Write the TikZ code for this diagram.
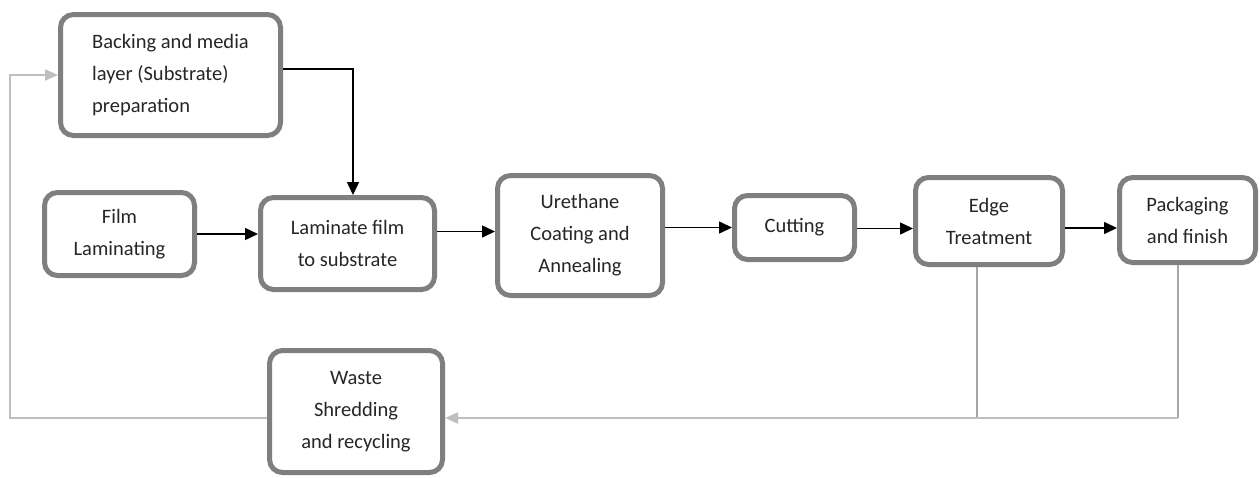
\documentclass[tikz,border=0pt]{standalone}
\usepackage{fontspec}
\setmainfont{Carlito}
\usetikzlibrary{arrows.meta,calc}
\definecolor{boxgray}{HTML}{7F7F7F}
\definecolor{linkgray}{HTML}{BFBFBF}
\definecolor{thingray}{HTML}{A6A6A6}
\tikzset{
  procbox/.style={draw=boxgray, line width=5pt, rounded corners=13pt, fill=white,
    font=\fontsize{20.5}{32}\selectfont, align=center, inner sep=0pt, text=black!85},
  blk/.style={draw=black, line width=1.5pt, -{Triangle[length=13pt,width=12pt]}},
  gry/.style={draw=linkgray, line width=2pt, -{Triangle[length=13pt,width=11pt]}},
  thin/.style={draw=thingray, line width=1.2pt},
}
\begin{document}
\begin{tikzpicture}[x=1pt,y=-1pt]
\useasboundingbox (0,0) rectangle (1260,477);
\fill[white] (0,0) rectangle (1260,477);

\node[procbox, minimum width=220pt, minimum height=121pt, align=left] (back) at (170.5,75)
  {Backing and media\\layer (Substrate)\\preparation};
\node[procbox, minimum width=150pt, minimum height=83pt] (film) at (119.5,234) {Film\\Laminating};
\node[procbox, minimum width=174pt, minimum height=92pt] (lam) at (347.5,243.5) {Laminate film\\to substrate};
\node[procbox, minimum width=165pt, minimum height=120pt] (ure) at (580,235.5) {Urethane\\Coating and\\Annealing};
\node[procbox, minimum width=120pt, minimum height=64pt] (cut) at (794.5,227.5) {Cutting};
\node[procbox, minimum width=147pt, minimum height=87pt] (edge) at (989,221) {Edge\\Treatment};
\node[procbox, minimum width=136pt, minimum height=85pt] (pack) at (1187.5,220) {Packaging\\and finish};
\node[procbox, minimum width=173pt, minimum height=122pt] (waste) at (356,411.5) {Waste\\Shredding\\and recycling};

\coordinate (join) at (977,418);
\coordinate (lft) at (10,75);

% black flow
\draw[blk] ([yshift=6pt]back.east) -| ([xshift=5.5pt]lam.north);
\draw[blk] (film.east) -- (lam.west |- film.east);
\draw[blk] ([yshift=12pt]lam.east) -- ([yshift=12pt]lam.east -| ure.west);
\draw[blk] (ure.east |- cut.west) -- (cut.west);
\draw[blk] ([yshift=-1pt]cut.east) -- ([yshift=-1pt]cut.east -| edge.west);
\draw[blk] ([yshift=-7pt]edge.east) -- ([yshift=-7pt]edge.east -| pack.west);

% gray recycling loop
\draw[thin] ([xshift=-12pt]edge.south) -- (join);
\draw[thin] ([xshift=-9.5pt]pack.south) -- ([xshift=-9.5pt]pack.south |- join);
\draw[gry] ([xshift=-9.5pt]pack.south |- join) -- ([yshift=-6.5pt]waste.east);
\draw[gry] ([yshift=-6.5pt]waste.west) -| (lft) -- (back.west);
\end{tikzpicture}
\end{document}
